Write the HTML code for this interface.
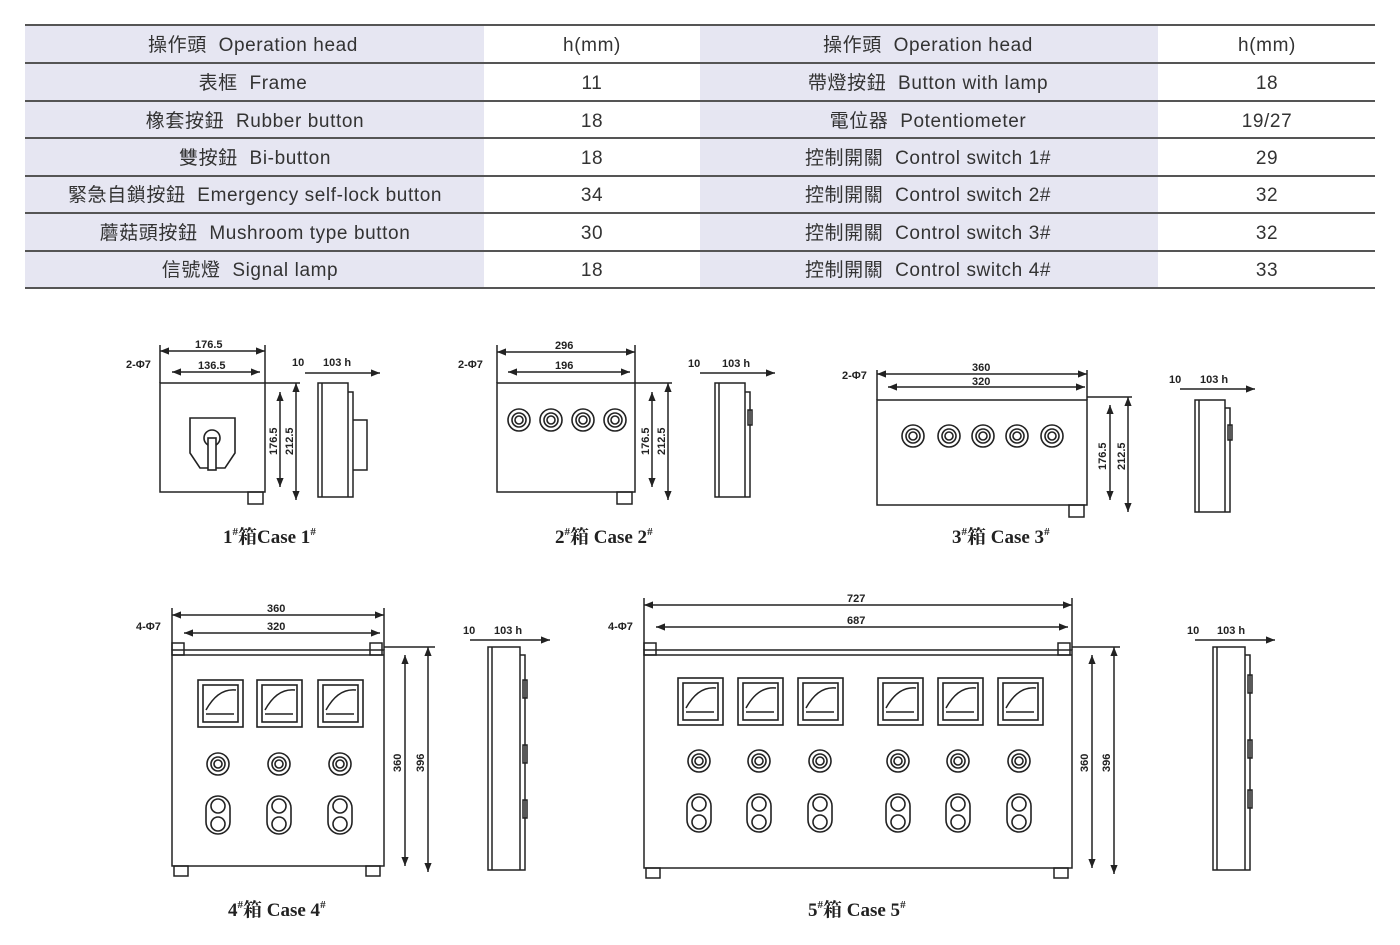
<!DOCTYPE html>
<html><head><meta charset="utf-8"><style>
body{margin:0;background:#fff;width:1400px;height:945px;overflow:hidden}
svg{display:block}
.t{font-family:"Liberation Sans","Noto Sans CJK TC",sans-serif;font-size:19px;fill:#333;letter-spacing:0.6px}
.d{font-family:"Liberation Sans",sans-serif;font-size:11px;font-weight:bold;fill:#222}
.c{font-family:"Liberation Serif","Noto Serif CJK SC",serif;font-size:19px;font-weight:bold;fill:#222}
.l{stroke:#222;fill:none;stroke-width:1.5}
.m{stroke:#222;fill:#fff;stroke-width:1.6}
</style></head><body>
<svg width="1400" height="945" viewBox="0 0 1400 945">
<defs>
<marker id="a" viewBox="0 0 10 10" refX="10" refY="5" markerWidth="6" markerHeight="6" orient="auto-start-reverse"><path d="M0 1L10 5L0 9z" fill="#222"/></marker>
<g id="meter"><rect x="0" y="0" width="45" height="47" class="m" stroke-width="2.2"/><rect x="5" y="5" width="35" height="37" class="m"/><path d="M8 30 Q20 8 38 10" class="l"/><line x1="8" y1="34" x2="36" y2="34" class="l"/></g>
<g id="btn"><circle r="11" class="m"/><circle r="7" class="m"/><circle r="4" class="m"/></g>
<g id="oval"><rect x="-12" y="0" width="24" height="38" rx="12" class="m" stroke-width="2.2"/><circle cx="0" cy="10" r="7" class="m"/><circle cx="0" cy="28" r="7" class="m"/></g>
</defs>
<rect x="25" y="25" width="459" height="263" fill="#e6e6f2"/>
<rect x="700" y="25" width="458" height="263" fill="#e6e6f2"/>
<g stroke="#555" stroke-width="2">
<line x1="25" y1="25" x2="1375" y2="25"/><line x1="25" y1="63" x2="1375" y2="63"/><line x1="25" y1="101" x2="1375" y2="101"/><line x1="25" y1="138" x2="1375" y2="138"/><line x1="25" y1="176" x2="1375" y2="176"/><line x1="25" y1="213" x2="1375" y2="213"/><line x1="25" y1="251" x2="1375" y2="251"/><line x1="25" y1="288" x2="1375" y2="288"/>
</g>
<g class="t" text-anchor="middle">
<text x="253" y="51">操作頭&#160; Operation head</text><text x="592" y="51">h(mm)</text>
<text x="253" y="89">表框&#160; Frame</text><text x="592" y="89">11</text>
<text x="255" y="127">橡套按鈕&#160; Rubber button</text><text x="592" y="127">18</text>
<text x="255" y="164">雙按鈕&#160; Bi-button</text><text x="592" y="164">18</text>
<text x="255" y="201">緊急自鎖按鈕&#160; Emergency self-lock button</text><text x="592" y="201">34</text>
<text x="255" y="239">蘑菇頭按鈕&#160; Mushroom type button</text><text x="592" y="239">30</text>
<text x="250" y="276">信號燈&#160; Signal lamp</text><text x="592" y="276">18</text>
<text x="928" y="51">操作頭&#160; Operation head</text><text x="1267" y="51">h(mm)</text>
<text x="928" y="89">帶燈按鈕&#160; Button with lamp</text><text x="1267" y="89">18</text>
<text x="928" y="127">電位器&#160; Potentiometer</text><text x="1267" y="127">19/27</text>
<text x="928" y="164">控制開關&#160; Control switch 1#</text><text x="1267" y="164">29</text>
<text x="928" y="201">控制開關&#160; Control switch 2#</text><text x="1267" y="201">32</text>
<text x="928" y="239">控制開關&#160; Control switch 3#</text><text x="1267" y="239">32</text>
<text x="928" y="276">控制開關&#160; Control switch 4#</text><text x="1267" y="276">33</text>
</g>

<!-- Case 1 -->
<rect x="160" y="383" width="105" height="109" class="l"/>
<rect x="248" y="492" width="15" height="12" class="l"/>
<path d="M190 418h45v35l-10 15h-25l-10-15z" class="m" stroke-width="2.4"/>
<circle cx="212" cy="438" r="8" class="m"/><rect x="208" y="438" width="8" height="32" class="m"/>
<line x1="160" y1="351" x2="265" y2="351" class="l" marker-start="url(#a)" marker-end="url(#a)"/>
<line x1="172" y1="372" x2="260" y2="372" class="l" marker-start="url(#a)" marker-end="url(#a)"/>
<line x1="160" y1="345" x2="160" y2="383" class="l"/><line x1="265" y1="345" x2="265" y2="383" class="l"/>
<line x1="280" y1="392" x2="280" y2="487" class="l" marker-start="url(#a)" marker-end="url(#a)"/>
<line x1="296" y1="383" x2="296" y2="500" class="l" marker-start="url(#a)" marker-end="url(#a)"/>
<line x1="265" y1="383" x2="300" y2="383" class="l"/>
<text class="d" x="195" y="348">176.5</text><text class="d" x="198" y="369">136.5</text><text class="d" x="126" y="368">2-Φ7</text>
<text class="d" transform="translate(277,455) rotate(-90)">176.5</text><text class="d" transform="translate(293,455) rotate(-90)">212.5</text>
<path d="M318 383h30v114h-30zM322 383v114M348 392h5v105h-5M353 420h14v50h-14" class="l"/>
<line x1="305" y1="373" x2="380" y2="373" class="l" marker-end="url(#a)"/>
<text class="d" x="292" y="366">10</text><text class="d" x="323" y="366">103 h</text>
<text class="c" x="223" y="543">1<tspan font-size="11" dy="-8">#</tspan><tspan dy="8">箱Case 1</tspan><tspan font-size="11" dy="-8">#</tspan></text>

<!-- Case 2 -->
<rect x="497" y="383" width="138" height="109" class="l"/>
<rect x="617" y="492" width="15" height="12" class="l"/>
<use href="#btn" x="519" y="420"/><use href="#btn" x="551" y="420"/><use href="#btn" x="583" y="420"/><use href="#btn" x="615" y="420"/>
<line x1="497" y1="352" x2="635" y2="352" class="l" marker-start="url(#a)" marker-end="url(#a)"/>
<line x1="508" y1="372" x2="630" y2="372" class="l" marker-start="url(#a)" marker-end="url(#a)"/>
<line x1="497" y1="345" x2="497" y2="383" class="l"/><line x1="635" y1="345" x2="635" y2="383" class="l"/>
<line x1="652" y1="392" x2="652" y2="487" class="l" marker-start="url(#a)" marker-end="url(#a)"/>
<line x1="668" y1="383" x2="668" y2="500" class="l" marker-start="url(#a)" marker-end="url(#a)"/>
<line x1="635" y1="383" x2="672" y2="383" class="l"/>
<text class="d" x="555" y="349">296</text><text class="d" x="555" y="369">196</text><text class="d" x="458" y="368">2-Φ7</text>
<text class="d" transform="translate(649,455) rotate(-90)">176.5</text><text class="d" transform="translate(665,455) rotate(-90)">212.5</text>
<path d="M715 383h30v114h-30zM719 383v114M745 392h5v105h-5" class="l"/><rect x="748" y="410" width="4" height="15" class="l"/>
<line x1="700" y1="373" x2="775" y2="373" class="l" marker-end="url(#a)"/>
<text class="d" x="688" y="367">10</text><text class="d" x="722" y="367">103 h</text>
<text class="c" x="555" y="543">2<tspan font-size="11" dy="-8">#</tspan><tspan dy="8">箱 Case 2</tspan><tspan font-size="11" dy="-8">#</tspan></text>

<!-- Case 3 -->
<rect x="877" y="400" width="210" height="105" class="l"/>
<rect x="1069" y="505" width="15" height="12" class="l"/>
<use href="#btn" x="913" y="436"/><use href="#btn" x="949" y="436"/><use href="#btn" x="983" y="436"/><use href="#btn" x="1017" y="436"/><use href="#btn" x="1052" y="436"/>
<line x1="877" y1="374" x2="1087" y2="374" class="l" marker-start="url(#a)" marker-end="url(#a)"/>
<line x1="888" y1="387" x2="1085" y2="387" class="l" marker-start="url(#a)" marker-end="url(#a)"/>
<line x1="877" y1="370" x2="877" y2="400" class="l"/><line x1="1087" y1="370" x2="1087" y2="400" class="l"/>
<line x1="1110" y1="405" x2="1110" y2="500" class="l" marker-start="url(#a)" marker-end="url(#a)"/>
<line x1="1128" y1="397" x2="1128" y2="512" class="l" marker-start="url(#a)" marker-end="url(#a)"/>
<line x1="1087" y1="397" x2="1132" y2="397" class="l"/>
<text class="d" x="972" y="371">360</text><text class="d" x="972" y="385">320</text><text class="d" x="842" y="379">2-Φ7</text>
<text class="d" transform="translate(1106,470) rotate(-90)">176.5</text><text class="d" transform="translate(1125,470) rotate(-90)">212.5</text>
<path d="M1195 400h30v112h-30zM1199 400v112M1225 408h5v104h-5" class="l"/><rect x="1228" y="425" width="4" height="15" class="l"/>
<line x1="1180" y1="389" x2="1255" y2="389" class="l" marker-end="url(#a)"/>
<text class="d" x="1169" y="383">10</text><text class="d" x="1200" y="383">103 h</text>
<text class="c" x="952" y="543">3<tspan font-size="11" dy="-8">#</tspan><tspan dy="8">箱 Case 3</tspan><tspan font-size="11" dy="-8">#</tspan></text>

<!-- Case 4 -->
<rect x="172" y="650" width="212" height="216" class="l"/>
<line x1="172" y1="655" x2="384" y2="655" class="l"/>
<rect x="172" y="643" width="12" height="12" class="l"/><rect x="370" y="643" width="12" height="12" class="l"/>
<rect x="174" y="866" width="14" height="10" class="l"/><rect x="366" y="866" width="14" height="10" class="l"/>
<use href="#meter" x="198" y="680"/><use href="#meter" x="257" y="680"/><use href="#meter" x="318" y="680"/>
<use href="#btn" x="218" y="764"/><use href="#btn" x="279" y="764"/><use href="#btn" x="340" y="764"/>
<use href="#oval" x="218" y="796"/><use href="#oval" x="279" y="796"/><use href="#oval" x="340" y="796"/>
<line x1="172" y1="615" x2="384" y2="615" class="l" marker-start="url(#a)" marker-end="url(#a)"/>
<line x1="184" y1="633" x2="380" y2="633" class="l" marker-start="url(#a)" marker-end="url(#a)"/>
<line x1="172" y1="608" x2="172" y2="650" class="l"/><line x1="384" y1="608" x2="384" y2="650" class="l"/>
<line x1="405" y1="655" x2="405" y2="866" class="l" marker-start="url(#a)" marker-end="url(#a)"/>
<line x1="428" y1="647" x2="428" y2="872" class="l" marker-start="url(#a)" marker-end="url(#a)"/>
<line x1="384" y1="647" x2="435" y2="647" class="l"/>
<text class="d" x="267" y="612">360</text><text class="d" x="267" y="630">320</text><text class="d" x="136" y="630">4-Φ7</text>
<text class="d" transform="translate(401,772) rotate(-90)">360</text><text class="d" transform="translate(424,772) rotate(-90)">396</text>
<path d="M488 647h32v223h-32zM492 647v223M520 655h5v215h-5" class="l"/>
<rect x="523" y="680" width="4" height="18" class="l"/><rect x="523" y="745" width="4" height="18" class="l"/><rect x="523" y="800" width="4" height="18" class="l"/>
<line x1="470" y1="640" x2="550" y2="640" class="l" marker-end="url(#a)"/>
<text class="d" x="463" y="634">10</text><text class="d" x="494" y="634">103 h</text>
<text class="c" x="228" y="916">4<tspan font-size="11" dy="-8">#</tspan><tspan dy="8">箱 Case 4</tspan><tspan font-size="11" dy="-8">#</tspan></text>

<!-- Case 5 -->
<rect x="644" y="650" width="428" height="218" class="l"/>
<line x1="644" y1="655" x2="1072" y2="655" class="l"/>
<rect x="644" y="643" width="12" height="12" class="l"/><rect x="1058" y="643" width="12" height="12" class="l"/>
<rect x="646" y="868" width="14" height="10" class="l"/><rect x="1054" y="868" width="14" height="10" class="l"/>
<use href="#meter" x="678" y="678"/><use href="#meter" x="738" y="678"/><use href="#meter" x="798" y="678"/><use href="#meter" x="878" y="678"/><use href="#meter" x="938" y="678"/><use href="#meter" x="998" y="678"/>
<use href="#btn" x="699" y="761"/><use href="#btn" x="759" y="761"/><use href="#btn" x="820" y="761"/><use href="#btn" x="898" y="761"/><use href="#btn" x="958" y="761"/><use href="#btn" x="1019" y="761"/>
<use href="#oval" x="699" y="794"/><use href="#oval" x="759" y="794"/><use href="#oval" x="820" y="794"/><use href="#oval" x="898" y="794"/><use href="#oval" x="958" y="794"/><use href="#oval" x="1019" y="794"/>
<line x1="644" y1="605" x2="1072" y2="605" class="l" marker-start="url(#a)" marker-end="url(#a)"/>
<line x1="656" y1="627" x2="1068" y2="627" class="l" marker-start="url(#a)" marker-end="url(#a)"/>
<line x1="644" y1="598" x2="644" y2="650" class="l"/><line x1="1072" y1="598" x2="1072" y2="650" class="l"/>
<line x1="1092" y1="655" x2="1092" y2="868" class="l" marker-start="url(#a)" marker-end="url(#a)"/>
<line x1="1114" y1="647" x2="1114" y2="874" class="l" marker-start="url(#a)" marker-end="url(#a)"/>
<line x1="1072" y1="647" x2="1120" y2="647" class="l"/>
<text class="d" x="847" y="602">727</text><text class="d" x="847" y="624">687</text><text class="d" x="608" y="630">4-Φ7</text>
<text class="d" transform="translate(1088,772) rotate(-90)">360</text><text class="d" transform="translate(1110,772) rotate(-90)">396</text>
<path d="M1213 647h32v223h-32zM1217 647v223M1245 655h5v215h-5" class="l"/>
<rect x="1248" y="675" width="4" height="18" class="l"/><rect x="1248" y="740" width="4" height="18" class="l"/><rect x="1248" y="790" width="4" height="18" class="l"/>
<line x1="1195" y1="640" x2="1275" y2="640" class="l" marker-end="url(#a)"/>
<text class="d" x="1187" y="634">10</text><text class="d" x="1217" y="634">103 h</text>
<text class="c" x="808" y="916">5<tspan font-size="11" dy="-8">#</tspan><tspan dy="8">箱 Case 5</tspan><tspan font-size="11" dy="-8">#</tspan></text>
</svg>
</body></html>
